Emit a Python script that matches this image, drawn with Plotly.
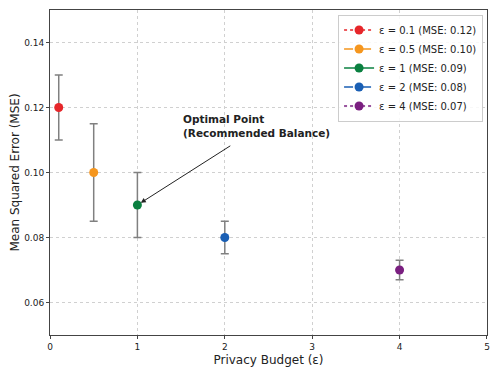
import plotly.graph_objects as go

epsilons = [0.1, 0.5, 1, 2, 4]
mse = [0.12, 0.10, 0.09, 0.08, 0.07]
err = [0.01, 0.015, 0.01, 0.005, 0.003]
labels = ["ε = 0.1 (MSE: 0.12)", "ε = 0.5 (MSE: 0.10)", "ε = 1 (MSE: 0.09)",
          "ε = 2 (MSE: 0.08)", "ε = 4 (MSE: 0.07)"]
colors = ["#e6262a", "#f5961e", "#0a8040", "#1a5fb4", "#7a1f80"]
dashes = ["dot", "dash", "solid", "dashdot", "dot"]
x_ticks = [0, 1, 2, 3, 4, 5]
y_ticks = [0.06, 0.08, 0.10, 0.12, 0.14]

fig = go.Figure()
for e, m, s, lab, c, d in zip(epsilons, mse, err, labels, colors, dashes):
    fig.add_trace(go.Scatter(
        x=[e], y=[m], mode="lines+markers", name=lab,
        marker=dict(color=c, size=9),
        line=dict(color=c, dash=d, width=1.5),
        error_y=dict(type="data", array=[s], visible=True, color="#808080",
                     thickness=1.5, width=4),
    ))

axis_common = dict(showline=True, linecolor="#444", linewidth=1, mirror=True,
                   showgrid=True, gridcolor="#d0d0d0", griddash="dot", gridwidth=1,
                   ticks="outside", ticklen=3, tickcolor="#444",
                   tickfont=dict(size=9, color="#222", family="DejaVu Sans"),
                   zeroline=False, automargin=False)

fig.update_xaxes(range=[0, 5.0001], tickvals=x_ticks, ticktext=[str(t) for t in x_ticks],
                 title=dict(text="Privacy Budget (ε)", font=dict(size=12, family="DejaVu Sans", color="#222"),
                            standoff=4), **axis_common)
fig.update_yaxes(range=[0.05, 0.15], tickvals=y_ticks, ticktext=[f"{t:.2f}" for t in y_ticks],
                 title=dict(text="Mean Squared Error (MSE)", font=dict(size=12, family="DejaVu Sans", color="#222"),
                            standoff=6), **axis_common)

# arrow
fig.add_annotation(x=1, y=0.09, ax=2.08, ay=0.1085, axref="x", ayref="y", xref="x", yref="y",
                   text="", showarrow=True, arrowhead=2, arrowsize=1, arrowwidth=1,
                   arrowcolor="#222", standoff=4)
fig.add_annotation(x=1.5, y=0.1098, xref="x", yref="y", xanchor="left", yanchor="bottom",
                   align="left", showarrow=False,
                   text="<b>Optimal Point</b><br><b>(Recommended Balance)</b>",
                   font=dict(size=10.5, family="DejaVu Sans", color="#222"))

# page body has an 8px default margin, so the figure is sized/offset to compensate
fig.update_layout(
    width=492, height=367,
    margin=dict(l=42, r=13, t=2, b=40, pad=0),
    plot_bgcolor="white", paper_bgcolor="white",
    font=dict(family="DejaVu Sans"),
    legend=dict(x=0.991, y=0.986, xanchor="right", yanchor="top",
                bgcolor="rgba(255,255,255,0.85)", bordercolor="#cccccc", borderwidth=1,
                font=dict(size=10, family="DejaVu Sans", color="#222"),
                tracegroupgap=0, itemwidth=30),
)

fig.write_html("out.html")
